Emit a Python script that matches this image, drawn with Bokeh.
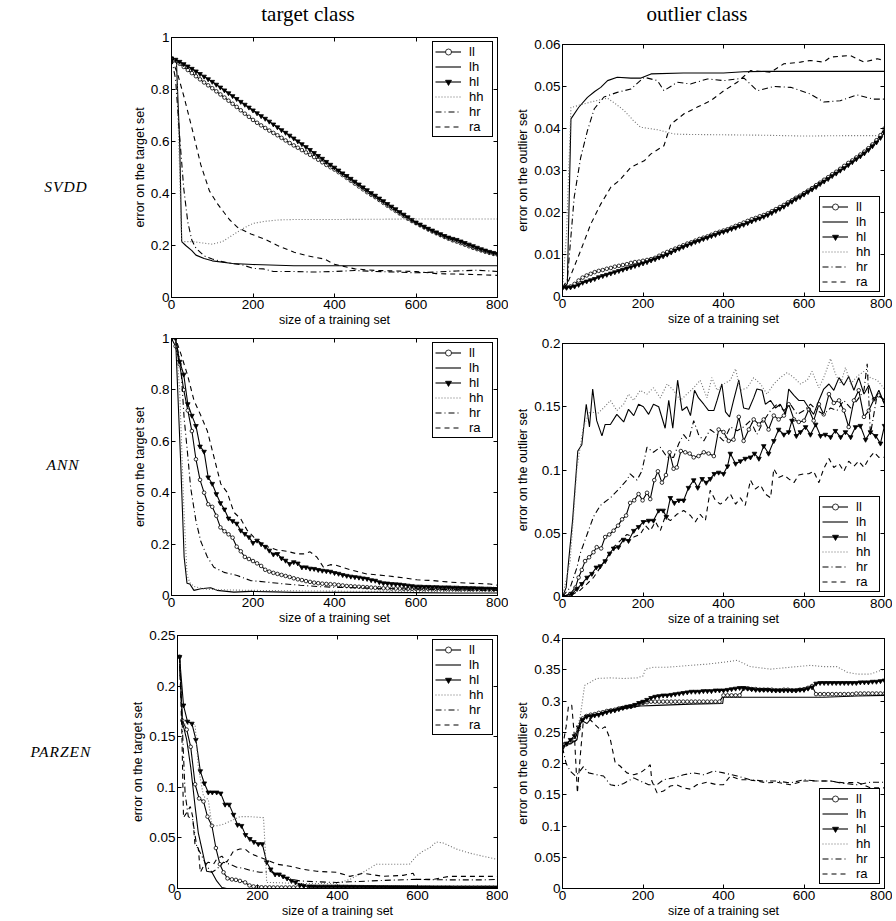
from bokeh.plotting import figure
from bokeh.models import Range1d, FixedTicker, LinearAxis, CustomJSTickFormatter, Div
from bokeh.layouts import column, row
from bokeh.embed import file_html
from bokeh.resources import INLINE

# ---------------- data ----------------
NAMES = ["ll", "lh", "hl", "hh", "hr", "ra"]
XTICKS = [0, 200, 400, 600, 800]
STEP10 = list(range(0, 801, 10))

# SVDD, target class
st_yticks = [0, 0.2, 0.4, 0.6, 0.8, 1.0]
st_ll_x = STEP10
st_ll = [0.920, 0.911, 0.899, 0.887, 0.875, 0.863, 0.851, 0.839, 0.827, 0.816,
         0.805, 0.793, 0.781, 0.769, 0.757, 0.745, 0.733, 0.720, 0.707, 0.695,
         0.683, 0.672, 0.662, 0.652, 0.642, 0.633, 0.624, 0.614, 0.604, 0.594,
         0.585, 0.576, 0.567, 0.558, 0.549, 0.540, 0.530, 0.520, 0.510, 0.501,
         0.492, 0.482, 0.471, 0.460, 0.449, 0.438, 0.427, 0.416, 0.405, 0.395,
         0.386, 0.375, 0.364, 0.353, 0.343, 0.333, 0.323, 0.313, 0.303, 0.294,
         0.286, 0.278, 0.270, 0.262, 0.254, 0.247, 0.240, 0.233, 0.226, 0.220,
         0.215, 0.209, 0.203, 0.197, 0.191, 0.186, 0.181, 0.176, 0.172, 0.168,
         0.165]
st_hl_x = STEP10
st_hl = [0.920, 0.915, 0.907, 0.898, 0.889, 0.880, 0.870, 0.860, 0.850, 0.840,
         0.830, 0.819, 0.808, 0.797, 0.786, 0.775, 0.764, 0.753, 0.742, 0.731,
         0.720, 0.709, 0.698, 0.688, 0.677, 0.666, 0.655, 0.644, 0.634, 0.623,
         0.612, 0.601, 0.590, 0.579, 0.568, 0.556, 0.545, 0.534, 0.522, 0.511,
         0.500, 0.489, 0.478, 0.468, 0.457, 0.446, 0.435, 0.424, 0.413, 0.402,
         0.392, 0.381, 0.371, 0.360, 0.350, 0.340, 0.329, 0.319, 0.309, 0.299,
         0.289, 0.281, 0.273, 0.265, 0.258, 0.251, 0.244, 0.237, 0.231, 0.226,
         0.222, 0.216, 0.210, 0.204, 0.198, 0.192, 0.186, 0.181, 0.176, 0.172,
         0.168]
st_lh_x = [0, 12, 20, 25, 35, 50, 60, 80, 100, 150, 200, 300, 400, 500, 600, 700, 800]
st_lh = [0.92, 0.91, 0.60, 0.215, 0.20, 0.18, 0.163, 0.15, 0.141, 0.131, 0.127,
         0.122, 0.122, 0.122, 0.122, 0.122, 0.122]
st_hh_x = [0, 12, 25, 50, 75, 100, 125, 150, 175, 200, 230, 260, 300, 400, 500, 600, 700, 800]
st_hh = [0.92, 0.91, 0.215, 0.215, 0.21, 0.205, 0.215, 0.24, 0.265, 0.285, 0.293,
         0.298, 0.300, 0.300, 0.301, 0.302, 0.302, 0.302]
st_hr_x = [0, 10, 20, 30, 40, 50, 60, 80, 100, 125, 150, 175, 200, 225, 250, 300,
           350, 400, 450, 500, 550, 600, 650, 700, 750, 800]
st_hr = [0.92, 0.84, 0.62, 0.42, 0.29, 0.22, 0.19, 0.16, 0.148, 0.138, 0.13, 0.125,
         0.112, 0.11, 0.10, 0.10, 0.098, 0.10, 0.104, 0.10, 0.098, 0.095, 0.098,
         0.102, 0.105, 0.10]
st_ra_x = [0, 15, 31, 52, 72, 93, 113, 142, 162, 195, 228, 260, 301, 334, 375, 400,
           450, 500, 550, 600, 650, 700, 750, 800]
st_ra = [0.92, 0.86, 0.77, 0.64, 0.51, 0.41, 0.36, 0.30, 0.27, 0.244, 0.225, 0.20,
         0.174, 0.16, 0.148, 0.128, 0.11, 0.104, 0.102, 0.10, 0.092, 0.09, 0.088, 0.085]

# SVDD, outlier class
so_yticks = [0, 0.01, 0.02, 0.03, 0.04, 0.05, 0.06]
so_ll_x = STEP10
so_ll = [0.0021, 0.0022, 0.0024, 0.0030, 0.0038, 0.0045, 0.0050, 0.0054, 0.0058, 0.0061,
         0.0063, 0.0066, 0.0068, 0.0071, 0.0073, 0.0075, 0.0077, 0.0080, 0.0082, 0.0083,
         0.0085, 0.0087, 0.0089, 0.0092, 0.0097, 0.0102, 0.0106, 0.0110, 0.0114, 0.0118,
         0.0122, 0.0126, 0.0129, 0.0133, 0.0137, 0.0140, 0.0143, 0.0147, 0.0151, 0.0154,
         0.0157, 0.0160, 0.0164, 0.0168, 0.0172, 0.0176, 0.0180, 0.0184, 0.0187, 0.0191,
         0.0194, 0.0198, 0.0203, 0.0208, 0.0213, 0.0218, 0.0224, 0.0229, 0.0235, 0.0240,
         0.0246, 0.0252, 0.0258, 0.0265, 0.0271, 0.0278, 0.0284, 0.0291, 0.0297, 0.0304,
         0.0311, 0.0318, 0.0324, 0.0331, 0.0338, 0.0345, 0.0353, 0.0362, 0.0372, 0.0384,
         0.0400]
so_hl_x = STEP10
so_hl = [0.0021, 0.0021, 0.0022, 0.0024, 0.0028, 0.0033, 0.0036, 0.0039, 0.0042, 0.0046,
         0.0049, 0.0052, 0.0055, 0.0058, 0.0061, 0.0064, 0.0067, 0.0070, 0.0073, 0.0076,
         0.0079, 0.0082, 0.0086, 0.0089, 0.0093, 0.0096, 0.0100, 0.0105, 0.0110, 0.0114,
         0.0118, 0.0122, 0.0126, 0.0130, 0.0133, 0.0137, 0.0140, 0.0144, 0.0147, 0.0151,
         0.0154, 0.0157, 0.0161, 0.0164, 0.0168, 0.0171, 0.0175, 0.0179, 0.0183, 0.0186,
         0.0190, 0.0194, 0.0199, 0.0204, 0.0209, 0.0214, 0.0220, 0.0226, 0.0232, 0.0237,
         0.0243, 0.0249, 0.0255, 0.0261, 0.0268, 0.0274, 0.0280, 0.0287, 0.0293, 0.0300,
         0.0306, 0.0313, 0.0320, 0.0327, 0.0334, 0.0341, 0.0349, 0.0358, 0.0367, 0.0378,
         0.0390]
so_lh_x = [0, 12, 21, 40, 62, 80, 95, 112, 136, 170, 195, 220, 300, 400, 450, 500, 600, 700, 800]
so_lh = [0.002, 0.003, 0.0423, 0.045, 0.0474, 0.0488, 0.0498, 0.0514, 0.0522, 0.052,
         0.052, 0.053, 0.0532, 0.0532, 0.0535, 0.0536, 0.0536, 0.0536, 0.0536]
so_hh_x = [0, 10, 21, 40, 70, 100, 112, 130, 153, 175, 194, 236, 277, 300, 400, 500, 600, 700, 800]
so_hh = [0.002, 0.015, 0.045, 0.0455, 0.0463, 0.047, 0.0472, 0.046, 0.0443, 0.042,
         0.0403, 0.0397, 0.0387, 0.0386, 0.0385, 0.0384, 0.0382, 0.0383, 0.0383]
so_hr_x = [0, 12, 29, 45, 62, 79, 103, 136, 170, 203, 236, 252, 285, 318, 360, 401,
           451, 484, 525, 567, 616, 649, 690, 732, 773, 800]
so_hr = [0.002, 0.004, 0.0236, 0.033, 0.0395, 0.0447, 0.0475, 0.0486, 0.0494, 0.0522,
         0.0514, 0.049, 0.051, 0.0506, 0.0518, 0.0514, 0.052, 0.049, 0.050, 0.0498,
         0.0482, 0.0463, 0.0466, 0.048, 0.047, 0.047]
so_ra_x = [0, 12, 45, 70, 95, 120, 141, 170, 203, 219, 252, 269, 302, 335, 368, 401,
           434, 467, 517, 550, 591, 616, 649, 666, 715, 749, 782, 800]
so_ra = [0.002, 0.003, 0.0109, 0.0172, 0.022, 0.026, 0.0276, 0.0308, 0.0323, 0.0339,
         0.0359, 0.041, 0.0435, 0.0451, 0.0466, 0.049, 0.051, 0.0538, 0.0534, 0.0554,
         0.0558, 0.0562, 0.0558, 0.057, 0.0574, 0.0558, 0.0566, 0.0562]

# ANN, target class
at_yticks = [0, 0.2, 0.4, 0.6, 0.8, 1.0]
at_ll_x = STEP10
at_ll = [1.0, 0.97, 0.90, 0.80, 0.72, 0.64, 0.53, 0.45, 0.40, 0.355,
         0.345, 0.31, 0.265, 0.25, 0.238, 0.225, 0.19, 0.172, 0.15, 0.142,
         0.134, 0.125, 0.115, 0.10, 0.093, 0.088, 0.084, 0.08, 0.076, 0.072,
         0.067, 0.063, 0.06, 0.056, 0.053, 0.05, 0.048, 0.046, 0.045, 0.044,
         0.043, 0.041, 0.039, 0.037, 0.036, 0.035, 0.034, 0.033, 0.032, 0.031,
         0.03, 0.029, 0.028, 0.028, 0.027, 0.027, 0.027, 0.026, 0.026, 0.026,
         0.026, 0.026, 0.025, 0.026, 0.025, 0.025, 0.026, 0.025, 0.025, 0.025,
         0.025, 0.024, 0.025, 0.025, 0.024, 0.025, 0.025, 0.024, 0.024, 0.025,
         0.024]
at_hl_x = STEP10
at_hl = [1.0, 1.0, 0.91, 0.86, 0.745, 0.70, 0.66, 0.58, 0.56, 0.46,
         0.435, 0.395, 0.36, 0.335, 0.30, 0.29, 0.28, 0.253, 0.24, 0.227,
         0.205, 0.214, 0.20, 0.19, 0.175, 0.16, 0.162, 0.145, 0.136, 0.123,
         0.13, 0.125, 0.11, 0.11, 0.105, 0.104, 0.10, 0.097, 0.095, 0.093,
         0.088, 0.085, 0.08, 0.077, 0.074, 0.072, 0.07, 0.067, 0.065, 0.06,
         0.058, 0.052, 0.048, 0.047, 0.045, 0.044, 0.043, 0.041, 0.039, 0.037,
         0.035, 0.035, 0.034, 0.034, 0.033, 0.033, 0.032, 0.032, 0.032, 0.031,
         0.031, 0.03, 0.03, 0.029, 0.029, 0.028, 0.028, 0.027, 0.027, 0.026,
         0.026]
at_lh_x = [0, 10, 23, 31, 38, 45, 55, 72, 96, 112, 153, 194, 250, 300, 400, 500, 600, 700, 800]
at_lh = [1.0, 1.0, 0.5, 0.15, 0.048, 0.045, 0.02, 0.026, 0.03, 0.02, 0.013, 0.016,
         0.014, 0.012, 0.012, 0.012, 0.011, 0.01, 0.01]
at_hh_x = [0, 10, 20, 30, 38, 45, 55, 80, 120, 200, 300, 400, 500, 600, 700, 800]
at_hh = [1.0, 1.0, 0.8, 0.35, 0.08, 0.05, 0.035, 0.025, 0.022, 0.02, 0.018, 0.017,
         0.016, 0.016, 0.015, 0.015]
at_hr_x = [0, 10, 23, 31, 39, 47, 60, 72, 88, 104, 129, 161, 194, 235, 276, 316, 357,
           400, 450, 500, 600, 700, 800]
at_hr = [1.0, 1.0, 0.89, 0.69, 0.56, 0.42, 0.29, 0.21, 0.15, 0.11, 0.09, 0.078, 0.058,
         0.052, 0.045, 0.04, 0.035, 0.032, 0.03, 0.028, 0.025, 0.022, 0.02]
at_ra_x = [0, 10, 23, 39, 55, 72, 88, 104, 121, 137, 153, 170, 186, 202, 227, 259, 284,
           308, 324, 340, 357, 373, 390, 406, 439, 479, 520, 569, 602, 642, 683, 732, 781, 800]
at_ra = [1.0, 1.0, 0.94, 0.86, 0.76, 0.70, 0.64, 0.54, 0.434, 0.40, 0.324, 0.298,
         0.253, 0.227, 0.194, 0.177, 0.172, 0.162, 0.162, 0.17, 0.149, 0.11, 0.12,
         0.117, 0.10, 0.084, 0.078, 0.069, 0.061, 0.058, 0.052, 0.048, 0.045, 0.04]

# ANN, outlier class
ao_yticks = [0, 0.05, 0.1, 0.15, 0.2]
ao_ll_x = [0, 19, 32, 40, 48, 56, 66, 77, 85, 96, 106, 116, 127, 138, 148, 158, 168, 178,
           189, 199, 210, 218, 228, 237, 247, 257, 266, 276, 284, 294, 305, 316, 326,
           338, 351, 363, 376, 388, 400, 413, 425, 438, 450, 463, 475, 488, 500, 512,
           525, 537, 550, 562, 575, 587, 600, 612, 624, 637, 649, 662, 674, 687, 699,
           711, 724, 736, 749, 761, 774, 786, 800]
ao_ll = [0.0, 0.002, 0.007, 0.015, 0.021, 0.028, 0.031, 0.035, 0.039, 0.038,
         0.047, 0.049, 0.052, 0.056, 0.061, 0.064, 0.074, 0.076, 0.081, 0.076,
         0.082, 0.077, 0.092, 0.099, 0.09, 0.096, 0.114, 0.101, 0.102, 0.115,
         0.114, 0.113, 0.11, 0.111, 0.114, 0.113, 0.111, 0.132, 0.13, 0.123,
         0.124, 0.142, 0.123, 0.132, 0.14, 0.136, 0.14, 0.132, 0.143, 0.14,
         0.143, 0.152, 0.14, 0.138, 0.139, 0.148, 0.139, 0.152, 0.144, 0.16,
         0.153, 0.155, 0.147, 0.134, 0.155, 0.163, 0.142, 0.147, 0.156, 0.159,
         0.155]
ao_lh_x = [0, 9, 17, 25, 38, 48, 59, 67, 75, 85, 98, 106, 119, 135, 152, 164, 177, 189,
           201, 214, 226, 239, 255, 264, 274, 286, 297, 309, 318, 328, 338, 351, 363,
           376, 384, 396, 405, 415, 425, 438, 450, 463, 475, 483, 496, 504, 517, 529,
           541, 554, 562, 575, 587, 600, 612, 624, 637, 649, 662, 674, 687, 699, 711,
           724, 736, 749, 761, 774, 786, 800]
ao_lh = [0.0, 0.007, 0.034, 0.06, 0.115, 0.12, 0.152, 0.134, 0.164, 0.139,
         0.127, 0.136, 0.136, 0.144, 0.138, 0.148, 0.143, 0.152, 0.15, 0.144,
         0.152, 0.15, 0.133, 0.155, 0.133, 0.171, 0.147, 0.15, 0.143, 0.163,
         0.157, 0.152, 0.147, 0.147, 0.155, 0.168, 0.146, 0.142, 0.155, 0.171,
         0.149, 0.148, 0.157, 0.164, 0.163, 0.152, 0.155, 0.149, 0.152, 0.144,
         0.164, 0.159, 0.155, 0.155, 0.149, 0.144, 0.155, 0.164, 0.168, 0.163,
         0.173, 0.167, 0.174, 0.163, 0.173, 0.16, 0.167, 0.155, 0.163, 0.152]
ao_hl_x = [0, 23, 36, 48, 61, 73, 84, 94, 106, 117, 127, 139, 152, 164, 177, 189, 201,
           214, 226, 239, 250, 258, 268, 278, 289, 301, 313, 326, 336, 347, 357, 367,
           377, 388, 400, 410, 417, 430, 442, 454, 467, 477, 488, 500, 512, 525, 537,
           550, 562, 570, 581, 591, 604, 616, 629, 641, 653, 666, 678, 691, 703, 716,
           728, 740, 753, 765, 778, 790, 800]
ao_hl = [0.0, 0.002, 0.006, 0.01, 0.015, 0.018, 0.023, 0.024, 0.028, 0.034,
         0.038, 0.039, 0.045, 0.044, 0.052, 0.055, 0.059, 0.06, 0.06, 0.068,
         0.068, 0.063, 0.078, 0.074, 0.076, 0.076, 0.086, 0.092, 0.086, 0.093,
         0.09, 0.093, 0.097, 0.098, 0.097, 0.103, 0.113, 0.105, 0.107, 0.109,
         0.11, 0.113, 0.109, 0.119, 0.113, 0.123, 0.132, 0.128, 0.13, 0.139,
         0.127, 0.13, 0.134, 0.128, 0.136, 0.127, 0.128, 0.126, 0.131, 0.126,
         0.13, 0.126, 0.134, 0.135, 0.124, 0.13, 0.127, 0.121, 0.135]
ao_hh_x = [0, 19, 36, 52, 69, 85, 102, 119, 135, 152, 164, 177, 193, 210, 226, 243, 260,
           276, 293, 309, 326, 342, 359, 371, 384, 400, 417, 430, 442, 459, 475, 492,
           508, 525, 541, 558, 575, 591, 608, 620, 637, 649, 666, 678, 691, 703, 716,
           732, 749, 765, 782, 800]
ao_hh = [0.0, 0.028, 0.102, 0.134, 0.147, 0.144, 0.149, 0.155, 0.147, 0.152,
         0.16, 0.155, 0.163, 0.16, 0.165, 0.157, 0.168, 0.163, 0.155, 0.16,
         0.165, 0.171, 0.157, 0.173, 0.163, 0.168, 0.171, 0.18, 0.163, 0.165,
         0.173, 0.168, 0.16, 0.168, 0.173, 0.177, 0.173, 0.168, 0.171, 0.178,
         0.165, 0.173, 0.188, 0.176, 0.168, 0.181, 0.168, 0.174, 0.178, 0.173,
         0.171, 0.164]
ao_hr_x = [0, 19, 36, 44, 61, 77, 94, 119, 143, 160, 168, 185, 197, 210, 226, 243, 260,
           276, 289, 301, 313, 326, 338, 351, 367, 384, 400, 417, 434, 450, 467, 483,
           500, 517, 533, 550, 566, 583, 600, 616, 633, 649, 666, 682, 699, 716, 732,
           749, 757, 765, 782, 800]
ao_hr = [0.0, 0.007, 0.023, 0.034, 0.049, 0.063, 0.072, 0.078, 0.086, 0.092,
         0.097, 0.092, 0.099, 0.118, 0.114, 0.118, 0.11, 0.11, 0.121, 0.128,
         0.123, 0.139, 0.128, 0.123, 0.132, 0.128, 0.123, 0.134, 0.131, 0.134,
         0.139, 0.128, 0.139, 0.147, 0.152, 0.147, 0.152, 0.144, 0.147, 0.152,
         0.147, 0.144, 0.149, 0.147, 0.155, 0.149, 0.155, 0.163, 0.184, 0.128,
         0.16, 0.155]
ao_ra_x = [0, 27, 44, 61, 77, 94, 110, 127, 143, 160, 177, 193, 206, 218, 231, 243, 255,
           268, 284, 301, 318, 330, 342, 355, 367, 380, 392, 405, 417, 430, 442, 454,
           467, 479, 492, 504, 517, 525, 537, 550, 562, 575, 587, 600, 612, 624, 637,
           649, 662, 674, 687, 699, 711, 724, 736, 749, 761, 774, 786, 800]
ao_ra = [0.0, 0.002, 0.005, 0.01, 0.015, 0.023, 0.031, 0.039, 0.044, 0.049,
         0.047, 0.049, 0.056, 0.052, 0.059, 0.052, 0.063, 0.06, 0.065, 0.068,
         0.064, 0.059, 0.065, 0.06, 0.084, 0.076, 0.073, 0.076, 0.081, 0.073,
         0.078, 0.072, 0.092, 0.085, 0.088, 0.081, 0.078, 0.101, 0.094, 0.096,
         0.093, 0.09, 0.096, 0.097, 0.097, 0.099, 0.09, 0.101, 0.109, 0.102,
         0.105, 0.099, 0.107, 0.103, 0.107, 0.102, 0.109, 0.114, 0.11, 0.11]

# PARZEN, target class
pt_yticks = [0, 0.05, 0.1, 0.15, 0.2, 0.25]
pt_ll_x = [5, 12, 23, 33, 44, 54, 65, 75, 86, 96, 106, 115, 125, 136, 146, 156, 169, 180,
           190, 200] + list(range(210, 801, 10))
pt_ll = [0.229, 0.166, 0.157, 0.14, 0.103, 0.089, 0.086, 0.071, 0.062, 0.04,
         0.024, 0.016, 0.01, 0.009, 0.0085, 0.0075, 0.006, 0.003, 0.002, 0.0015,
         0.0012, 0.0011, 0.0011, 0.001, 0.001, 0.001, 0.001, 0.001, 0.001, 0.001,
         0.0009, 0.0009, 0.0009, 0.0009, 0.0009, 0.0009, 0.0009, 0.0009, 0.0009, 0.0009,
         0.0008, 0.0008, 0.0008, 0.0008, 0.0008, 0.0008, 0.0008, 0.0008, 0.0008, 0.0008,
         0.0008, 0.0008, 0.0008, 0.0008, 0.0008, 0.0008, 0.0008, 0.0008, 0.0008, 0.0008,
         0.0008, 0.0008, 0.0008, 0.0008, 0.0008, 0.0008, 0.0008, 0.0008, 0.0008, 0.0008,
         0.0008, 0.0008, 0.0008, 0.0008, 0.0008, 0.0008, 0.0008, 0.0008, 0.0008, 0.0008]
pt_lh_x = [5, 12, 23, 33, 44, 52, 65, 73, 86, 98, 111, 123, 200, 300, 400, 500, 600, 700, 800]
pt_lh = [0.23, 0.165, 0.147, 0.12, 0.081, 0.055, 0.032, 0.017, 0.016, 0.0075, 0.001,
         0.0, 0.0, 0.0, 0.0, 0.0, 0.0, 0.0, 0.0]
pt_hl_x = [5, 15, 25, 36, 46, 57, 67, 77, 87, 98, 108, 119, 129, 140, 150, 160, 170, 181,
           191, 202, 212, 223, 233, 244, 254, 264, 274, 285, 295, 306, 316] + list(range(330, 801, 10))
pt_hl = [0.229, 0.181, 0.165, 0.163, 0.147, 0.116, 0.104, 0.095, 0.095, 0.095,
         0.094, 0.083, 0.083, 0.073, 0.063, 0.062, 0.053, 0.049, 0.046, 0.044,
         0.044, 0.026, 0.019, 0.014, 0.014, 0.012, 0.01, 0.0075, 0.006, 0.0036,
         0.0026,
         0.0022, 0.0021, 0.002, 0.002, 0.002, 0.002, 0.002, 0.002, 0.0019, 0.0019,
         0.0018, 0.0018, 0.0017, 0.0017, 0.0016, 0.0016, 0.0016, 0.0015, 0.0015, 0.0015,
         0.0014, 0.0014, 0.0014, 0.0013, 0.0013, 0.0013, 0.0013, 0.0012, 0.0012, 0.0012,
         0.0012, 0.0011, 0.0011, 0.0011, 0.0011, 0.0011, 0.001, 0.001, 0.001, 0.001,
         0.001, 0.001, 0.001, 0.001, 0.001, 0.001, 0.001, 0.001]
pt_hh_x = [5, 12, 23, 33, 44, 52, 65, 77, 86, 98, 111, 123, 140, 156, 181, 215, 219, 223,
           231, 300, 398, 431, 464, 497, 531, 580, 597, 614, 630, 647, 664, 697, 730, 763,
           797, 800]
pt_hh = [0.229, 0.163, 0.162, 0.162, 0.162, 0.12, 0.091, 0.088, 0.062, 0.062, 0.063,
         0.065, 0.068, 0.071, 0.071, 0.07, 0.042, 0.006, 0.006, 0.005, 0.005, 0.009,
         0.016, 0.024, 0.024, 0.024, 0.032, 0.037, 0.04, 0.046, 0.045, 0.039, 0.035,
         0.032, 0.029, 0.029]
pt_hr_x = [5, 11, 19, 27, 38, 48, 61, 73, 86, 98, 115, 131, 148, 165, 181, 206, 219, 231,
           264, 306, 348, 398, 431, 514, 597, 680, 763, 800]
pt_hr = [0.229, 0.17, 0.094, 0.071, 0.068, 0.042, 0.032, 0.022, 0.016, 0.019, 0.026,
         0.024, 0.021, 0.02, 0.018, 0.016, 0.016, 0.017, 0.011, 0.0075, 0.0066, 0.006,
         0.0066, 0.008, 0.009, 0.0085, 0.0085, 0.009]
pt_ra_x = [5, 11, 15, 23, 32, 38, 44, 52, 57, 65, 77, 90, 98, 111, 123, 140, 156, 169,
           181, 198, 219, 231, 248, 281, 314, 348, 398, 431, 464, 514, 564, 589, 597, 639,
           680, 730, 780, 800]
pt_ra = [0.229, 0.153, 0.07, 0.075, 0.081, 0.071, 0.042, 0.04, 0.016, 0.022, 0.026,
         0.024, 0.029, 0.032, 0.026, 0.037, 0.039, 0.039, 0.035, 0.032, 0.029, 0.027,
         0.024, 0.022, 0.019, 0.017, 0.016, 0.012, 0.015, 0.012, 0.013, 0.015, 0.009,
         0.009, 0.012, 0.012, 0.012, 0.012]

# PARZEN, outlier class
po_yticks = [0, 0.05, 0.1, 0.15, 0.2, 0.25, 0.3, 0.35, 0.4]
po_ll_x = STEP10
po_ll = [0.226, 0.231, 0.234, 0.238, 0.255, 0.272, 0.276, 0.278, 0.279, 0.281,
         0.282, 0.284, 0.285, 0.286, 0.288, 0.289, 0.290, 0.291, 0.293, 0.295,
         0.297, 0.298,
         0.299, 0.299, 0.299, 0.299, 0.299, 0.299, 0.299, 0.299, 0.299, 0.299,
         0.299, 0.299, 0.299, 0.299, 0.299, 0.299, 0.299, 0.299,
         0.309, 0.309, 0.309, 0.309, 0.309,
         0.320, 0.320, 0.319, 0.319, 0.318, 0.318, 0.318, 0.318, 0.317, 0.317,
         0.318, 0.318, 0.317, 0.317, 0.318, 0.319, 0.321, 0.324,
         0.311, 0.311, 0.311, 0.311, 0.311, 0.311, 0.311, 0.311, 0.311, 0.311,
         0.312, 0.312, 0.312, 0.312, 0.312, 0.312, 0.312, 0.312]
po_hl_x = STEP10
po_hl = [0.226, 0.232, 0.238, 0.244, 0.258, 0.270, 0.275, 0.276, 0.277, 0.278,
         0.280, 0.282, 0.284, 0.285, 0.287, 0.289, 0.291, 0.292, 0.294, 0.297,
         0.299, 0.302, 0.305, 0.307, 0.308, 0.309, 0.309, 0.310, 0.311, 0.312,
         0.313, 0.314, 0.315, 0.315, 0.315, 0.316, 0.316, 0.316, 0.317, 0.317,
         0.317, 0.318, 0.319, 0.320, 0.321, 0.321, 0.320, 0.319, 0.318, 0.318,
         0.318, 0.318, 0.317, 0.317, 0.317, 0.317, 0.317, 0.317, 0.317, 0.318,
         0.318, 0.320, 0.322, 0.328,
         0.329, 0.329, 0.329, 0.329, 0.329, 0.329, 0.329, 0.329, 0.329, 0.329,
         0.330, 0.330, 0.330, 0.331, 0.331, 0.332, 0.333]
po_lh_x = [0, 20, 36, 44, 61, 77, 110, 152, 193, 235, 318, 398, 400, 483, 566, 649, 732, 800]
po_lh = [0.226, 0.232, 0.238, 0.27, 0.264, 0.277, 0.283, 0.288, 0.292, 0.293, 0.295,
         0.296, 0.306, 0.306, 0.306, 0.306, 0.308, 0.309]
po_hh_x = [0, 19, 34, 44, 55, 69, 85, 119, 152, 185, 200, 206, 226, 260, 318, 359, 400,
           434, 467, 517, 566, 616, 649, 682, 707, 732, 765, 800]
po_hh = [0.226, 0.232, 0.248, 0.275, 0.325, 0.33, 0.336, 0.337, 0.336, 0.337, 0.34,
         0.351, 0.354, 0.354, 0.357, 0.359, 0.362, 0.365, 0.355, 0.351, 0.354, 0.357,
         0.355, 0.355, 0.346, 0.343, 0.343, 0.351]
po_hr_x = [0, 9, 19, 32, 40, 52, 65, 85, 102, 119, 135, 152, 177, 193, 214, 235, 251, 276,
           301, 326, 351, 376, 400, 434, 467, 500, 533, 566, 600, 633, 666, 699, 732, 765, 800]
po_hr = [0.226, 0.2, 0.188, 0.18, 0.185, 0.195, 0.185, 0.182, 0.18, 0.166, 0.164, 0.168,
         0.177, 0.172, 0.166, 0.166, 0.174, 0.177, 0.182, 0.185, 0.182, 0.188, 0.185,
         0.18, 0.174, 0.172, 0.172, 0.169, 0.174, 0.172, 0.172, 0.168, 0.166, 0.17, 0.17]
po_ra_x = [0, 9, 15, 23, 30, 37, 44, 52, 61, 69, 81, 94, 106, 119, 131, 143, 160, 177,
           193, 210, 218, 222, 235, 251, 268, 284, 301, 318, 334, 359, 384, 400, 417, 442,
           459, 483, 508, 533, 566, 600, 633, 666, 699, 732, 765, 800]
po_ra = [0.226, 0.259, 0.293, 0.293, 0.24, 0.153, 0.211, 0.27, 0.277, 0.27,
         0.262, 0.254, 0.259, 0.238, 0.201, 0.196, 0.185, 0.182, 0.185, 0.193,
         0.198, 0.172, 0.153, 0.156, 0.164, 0.166, 0.161, 0.159, 0.166, 0.17,
         0.166, 0.166, 0.18, 0.174, 0.174, 0.172, 0.169, 0.17, 0.166, 0.172,
         0.172, 0.172, 0.169, 0.17, 0.161, 0.161]

# ---------------- styles ----------------
SANS = "Liberation Sans"
STYLE = {
    "ll": dict(color="black", dash="solid", marker="circle", msize=3.6, mfill="white"),
    "lh": dict(color="black", dash="solid", marker=None),
    "hl": dict(color="black", dash="solid", marker="inverted_triangle", msize=4.6, mfill="black"),
    "hh": dict(color="#6e6e6e", dash="1 2", marker=None),
    "hr": dict(color="black", dash="6 3 1 3", marker=None),
    "ra": dict(color="black", dash="5 4", marker=None),
}
FMT = "return String(Math.round(tick*10000)/10000);"


def style_axis(ax, ticks, label):
    ax.ticker = FixedTicker(ticks=ticks)
    ax.formatter = CustomJSTickFormatter(code=FMT)
    ax.major_tick_in = 4
    ax.major_tick_out = 0
    ax.minor_tick_line_color = None
    ax.axis_line_color = "black"
    ax.major_tick_line_color = "black"
    ax.major_label_text_font = SANS
    ax.major_label_text_font_size = "13.5px"
    ax.major_label_text_color = "black"
    ax.major_label_standoff = 2
    ax.axis_label = label
    ax.axis_label_text_font = SANS
    ax.axis_label_text_font_size = "12.5px"
    ax.axis_label_text_font_style = "normal"
    ax.axis_label_text_color = "black"
    ax.axis_label_standoff = 1


def hidden_axis(ticks):
    ax = LinearAxis(ticker=FixedTicker(ticks=ticks))
    ax.formatter = CustomJSTickFormatter(code="return '';")
    ax.major_tick_in = 4
    ax.major_tick_out = 0
    ax.minor_tick_line_color = None
    ax.major_label_text_font_size = "1px"
    ax.major_label_standoff = 0
    ax.axis_line_color = "black"
    ax.major_tick_line_color = "black"
    return ax


def panel(series, ymax, yticks, ylabel, legend_loc, w, h, mbl, mbr, mbt, mbb):
    p = figure(width=w, height=h, x_range=Range1d(0, 800), y_range=Range1d(0, ymax),
               output_backend="svg", toolbar_location=None,
               min_border_left=mbl, min_border_right=mbr,
               min_border_top=mbt, min_border_bottom=mbb)
    p.xgrid.visible = False
    p.ygrid.visible = False
    p.outline_line_color = "black"
    p.outline_line_alpha = 1
    p.background_fill_color = "white"
    p.border_fill_color = "white"
    for name in NAMES:
        xs, ys = series[name]
        st = STYLE[name]
        p.line(xs, ys, line_color=st["color"], line_width=1.1, line_dash=st["dash"],
               legend_label=name)
        if st["marker"]:
            p.scatter(xs, ys, marker=st["marker"], size=st["msize"], line_color="black",
                      fill_color=st["mfill"], line_width=0.8, legend_label=name)
    style_axis(p.xaxis[0], XTICKS, "size of a training set")
    style_axis(p.yaxis[0], yticks, ylabel)
    p.add_layout(hidden_axis(XTICKS), "above")
    p.add_layout(hidden_axis(yticks), "right")
    lg = p.legend[0]
    lg.location = legend_loc
    lg.border_line_color = "black"
    lg.border_line_width = 1
    lg.border_line_alpha = 1
    lg.background_fill_color = "white"
    lg.background_fill_alpha = 1
    lg.label_text_font = SANS
    lg.label_text_font_size = "13px"
    lg.label_text_color = "black"
    lg.spacing = 0
    lg.padding = 2
    lg.margin = 4
    lg.label_height = 15
    lg.glyph_height = 15
    lg.glyph_width = 26
    lg.label_standoff = 8
    lg.label_width = 21
    return p


def text_div(items, w, h):
    spans = "".join(
        f'<span style="position:absolute;left:{cx}px;top:{cy}px;'
        f'transform:translate(-50%,-50%);white-space:nowrap;{css}">{t}</span>'
        for t, cx, cy, css in items)
    html = f'<div style="position:relative;width:{w}px;height:{h}px;">{spans}</div>'
    return Div(text=html, width=w, height=h, margin=0)


LAB_W, L_W, R_W = 100, 408, 384
SERIF = "font-family:'Liberation Serif';color:black;"
TITLE_CSS = SERIF + "font-size:21px;"
ROW_CSS = SERIF + "font-size:15.5px;font-style:italic;letter-spacing:1px;"
H0, H1, H2, H3 = 28, 303, 297, 292

tl = panel({n: (globals()[f"st_{n}_x"], globals()[f"st_{n}"]) for n in NAMES},
           1.0, st_yticks, "error on the target set", "top_right",
           L_W, H1, 71, 11, 9, 34)
tr = panel({n: (globals()[f"so_{n}_x"], globals()[f"so_{n}"]) for n in NAMES},
           0.06, so_yticks, "error on the outlier set", "bottom_right",
           R_W, H1, 54, 8, 16, 35)
ml = panel({n: (globals()[f"at_{n}_x"], globals()[f"at_{n}"]) for n in NAMES},
           1.0, at_yticks, "error on the target set", "top_right",
           L_W, H2, 71, 11, 7, 33)
mr = panel({n: (globals()[f"ao_{n}_x"], globals()[f"ao_{n}"]) for n in NAMES},
           0.2, ao_yticks, "error on the outlier set", "bottom_right",
           R_W, H2, 54, 8, 12, 32)
bl = panel({n: (globals()[f"pt_{n}_x"], globals()[f"pt_{n}"]) for n in NAMES},
           0.25, pt_yticks, "error on the target set", "top_right",
           L_W, H3, 77, 11, 7, 31)
br = panel({n: (globals()[f"po_{n}_x"], globals()[f"po_{n}"]) for n in NAMES},
           0.4, po_yticks, "error on the outlier set", "bottom_right",
           R_W, H3, 54, 8, 10, 30)

title_row = text_div([("target class", 308, 14, TITLE_CSS),
                      ("outlier class", 697, 14, TITLE_CSS)],
                     LAB_W + L_W + R_W, H0)
lab1 = text_div([("SVDD", 66, 187 - H0, ROW_CSS)], LAB_W, H1)
lab2 = text_div([("ANN", 63, 465 - H0 - H1, ROW_CSS)], LAB_W, H2)
lab3 = text_div([("PARZEN", 61, 752 - H0 - H1 - H2, ROW_CSS)], LAB_W, H3)

layout = column(title_row,
                row(lab1, column(tl), column(tr)),
                row(lab2, column(ml), column(mr)),
                row(lab3, column(bl), column(br)))

open("out.html", "w").write(file_html(layout, INLINE))
